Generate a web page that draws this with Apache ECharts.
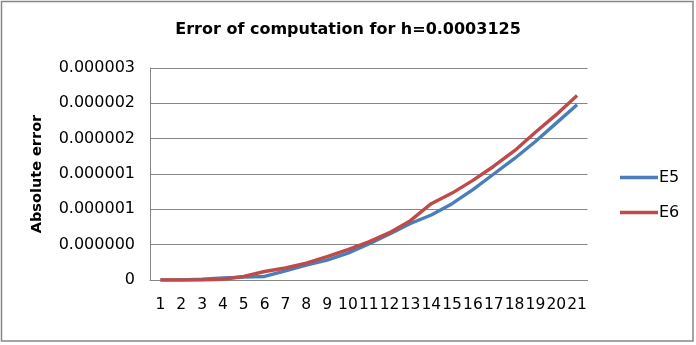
<!DOCTYPE html>
<html>
<head>
<meta charset="utf-8">
<script src="https://cdn.jsdelivr.net/npm/echarts@6/dist/echarts.min.js"></script>
<style>
html,body{margin:0;padding:0;background:#fff;}
#chart{width:696px;height:345px;}
</style>
</head>
<body>
<div id="chart"></div>
<script>
const categories = ['1','2','3','4','5','6','7','8','9','10','11','12','13','14','15','16','17','18','19','20','21'];
const e5 = [0, 0, 0.01e-6, 0.03e-6, 0.04e-6, 0.05e-6, 0.13e-6, 0.21e-6, 0.28e-6, 0.38e-6, 0.51e-6, 0.65e-6, 0.80e-6, 0.92e-6, 1.08e-6, 1.28e-6, 1.50e-6, 1.72e-6, 1.96e-6, 2.22e-6, 2.48e-6];
const e6 = [0, 0, 0, 0.01e-6, 0.05e-6, 0.12e-6, 0.17e-6, 0.24e-6, 0.33e-6, 0.43e-6, 0.54e-6, 0.67e-6, 0.84e-6, 1.08e-6, 1.23e-6, 1.41e-6, 1.61e-6, 1.83e-6, 2.09e-6, 2.34e-6, 2.61e-6];
const yTickLabels = ['0', '0.000000', '0.000001', '0.000001', '0.000002', '0.000002', '0.000003'];
const yStep = 0.5e-6;

const FONT = 'DejaVu Sans';
const chart = echarts.init(document.getElementById('chart'), null, {renderer: 'canvas'});
chart.setOption({
  animation: false,
  backgroundColor: '#fff',
  title: {
    text: 'Error of computation for h=0.0003125',
    left: 'center',
    top: 17,
    textStyle: {fontFamily: FONT, fontSize: 16, fontWeight: 'bold', color: '#000'}
  },
  legend: {
    orient: 'vertical',
    left: 615,
    top: 163,
    icon: 'rect',
    itemWidth: 38,
    itemHeight: 3.5,
    itemGap: 16,
    textStyle: {fontFamily: FONT, fontSize: 16, color: '#000', lineHeight: 19, padding: [0,0,0,-4]},
    data: ['E5', 'E6']
  },
  grid: {left: 150, right: 108.5, top: 68, bottom: 65, containLabel: false},
  xAxis: {
    type: 'category',
    data: categories,
    boundaryGap: true,
    axisLine: {lineStyle: {color: '#868686', width: 1}},
    axisTick: {show: false},
    axisLabel: {interval: 0, color: '#000', fontFamily: FONT, fontSize: 15.5, margin: 17}
  },
  yAxis: {
    type: 'value',
    min: 0,
    max: 3e-6,
    interval: yStep,
    name: 'Absolute error',
    nameLocation: 'middle',
    nameRotate: 90,
    nameGap: 105,
    nameTextStyle: {fontFamily: FONT, fontSize: 14.5, fontWeight: 'bold', color: '#000'},
    axisLine: {show: true, lineStyle: {color: '#868686', width: 1}},
    axisTick: {show: false},
    splitLine: {lineStyle: {color: '#868686', width: 1}},
    axisLabel: {
      color: '#000', fontFamily: FONT, fontSize: 16, margin: 15,
      formatter: function (v) { return yTickLabels[Math.round(v / yStep)]; }
    }
  },
  graphic: [{
    type: 'rect',
    shape: {x: 1.5, y: 1.5, width: 691.5, height: 339.5},
    style: {fill: 'none', stroke: '#868686', lineWidth: 1.5},
    silent: true
  }],
  series: [
    {name: 'E5', type: 'line', data: e5, symbol: 'none', smooth: false,
     lineStyle: {color: '#4a7ebb', width: 3.4}, itemStyle: {color: '#4a7ebb'}},
    {name: 'E6', type: 'line', data: e6, symbol: 'none', smooth: false,
     lineStyle: {color: '#be4b48', width: 3.4}, itemStyle: {color: '#be4b48'}}
  ]
});
</script>
</body>
</html>
